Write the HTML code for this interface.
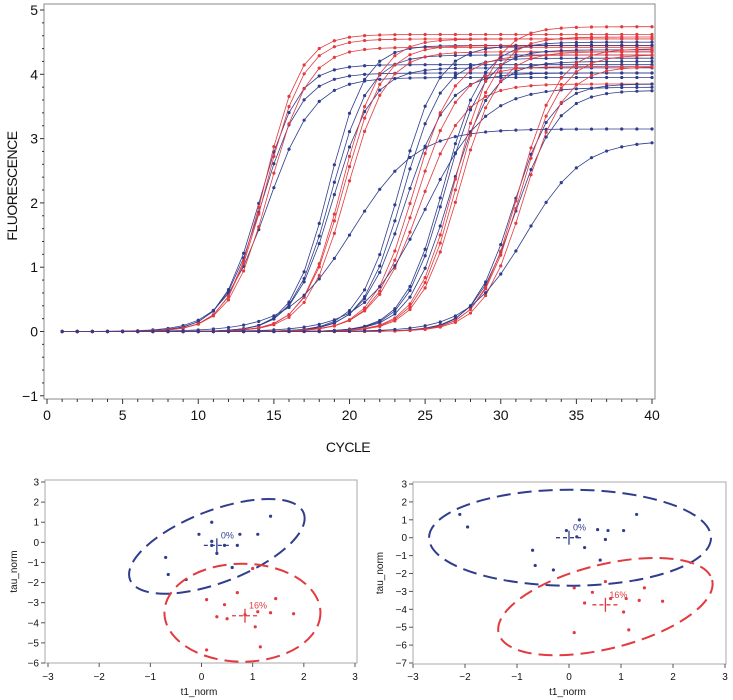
<!DOCTYPE html>
<html><head><meta charset="utf-8">
<style>
html,body{margin:0;padding:0;background:#fff;}
svg{display:block;font-family:"Liberation Sans",Arial,sans-serif;}
</style></head>
<body>
<svg id="root" width="733" height="700" viewBox="0 0 733 700" xmlns="http://www.w3.org/2000/svg">
<g id="top"></g>
<g id="bl"></g>
<g id="br"></g>
</svg>
<script>
// ---- amplification curves data (per-curve parameters) ----
var cycles = [];
for (var c = 1; c <= 40; c++) cycles.push(c);
var curveGroup    = ['b','b','b','r','r','r', 'b','b','b','r','r','r','b', 'b','b','b','r','r','r','b', 'b','b','b','r','r','r', 'b','b','r','r','r','b'];
var curveMid      = [14.1,14.2,14.6,14.4,14.5,14.7, 18.6,18.8,18.9,19.5,19.6,19.8,20.2, 23.3,23.5,23.7,24.2,24.4,24.6,25.0, 26.2,26.3,26.6,27.0,27.1,27.2, 30.8,31.0,31.2,31.3,31.5,31.6];
var curvePlateau  = [4.15,4.02,3.95,4.62,4.55,4.42, 4.45,4.3,4.1,4.55,4.45,4.35,3.15, 4.45,4.25,4.02,4.3,4.12,3.85,3.8, 4.5,4.38,4.2,4.74,4.58,4.35, 3.85,3.75,4.4,4.3,4.12,2.97];
var curveSlope    = [1.25,1.3,1.5,1.2,1.25,1.3, 1.2,1.25,1.3,1.25,1.3,1.3,2.1, 1.3,1.3,1.4,1.35,1.4,1.5,2.0, 1.3,1.3,1.35,1.3,1.3,1.3, 1.3,1.4,1.3,1.35,1.35,1.9];
var yTicksTop = [-1,0,1,2,3,4,5];
var xTicksTop = [0,5,10,15,20,25,30,35,40];

// ---- scatter data ----
var blueL = [[-0.7,-0.75],[-0.65,-1.6],[-0.3,-1.85],[-0.05,0.4],[0.2,1.0],[0.2,0.05],[0.3,-0.55],[0.45,-0.15],[0.7,-0.15],[0.75,0.4],[1.1,0.4],[1.35,1.3],[0.6,-1.25],[0.2,-0.15]];
var redL  = [[0.1,-2.85],[0.3,-3.7],[0.45,-3.1],[0.5,-3.8],[0.7,-2.5],[0.85,-3.6],[1.05,-4.2],[1.1,-3.45],[1.15,-5.2],[1.35,-3.5],[1.45,-2.8],[1.8,-3.55],[0.1,-5.35],[1.0,-1.3]];
var blueR = [[-0.7,-0.7],[-0.65,-1.55],[-0.3,-1.8],[-0.05,0.4],[0.2,1.0],[0.15,0.05],[0.3,-0.55],[0.55,0.45],[0.75,0.4],[0.7,-0.1],[1.05,0.4],[1.3,1.3],[0.6,-1.25],[-2.1,1.3],[-1.95,0.6]];
var redR  = [[0.1,-2.8],[0.3,-3.65],[0.45,-3.05],[0.7,-2.45],[0.8,-3.4],[1.05,-4.15],[1.1,-3.4],[1.15,-5.15],[1.35,-3.5],[1.45,-2.8],[1.8,-3.55],[0.1,-5.3]];
var centroidL = [[0.3,-0.15],[0.85,-3.65]];
var centroidR = [[0.0,0.0],[0.7,-3.75]];
var labelsGroup = ['0%','16%'];
var ellipseL = [[0.3,-0.2,93,36,-21],[0.8,-3.5,78,49,0]];
var ellipseR = [[0.02,0.0,141,48,0],[0.7,-3.85,110,42,-14]];
var xTicksS = [-3,-2,-1,0,1,2,3];
var yTicksL = [3,2,1,0,-1,-2,-3,-4,-5,-6];
var yTicksR = [3,2,1,0,-1,-2,-3,-4,-5,-6,-7];

var NS = 'http://www.w3.org/2000/svg';
var BLUE = '#2f3d8c', RED = '#e23a3f', GRAY = '#888';
function mk(parent, tag, attrs, text) {
  var e = document.createElementNS(NS, tag);
  for (var k in attrs) e.setAttribute(k, attrs[k]);
  if (text !== undefined) e.textContent = text;
  parent.appendChild(e);
  return e;
}

// ===== top chart =====
(function(){
  var g = document.getElementById('top');
  var L=44, R=655, T=4, B=399;
  function X(v){ return 47 + v * (652-47)/40; }
  function Y(v){ return 331.5 - v * 64.3; }
  var fr = mk(g,'rect',{x:L,y:T,width:R-L,height:B-T,fill:'none',stroke:GRAY,'stroke-width':1});
  
  
  // y minor ticks
  for (var v=-1; v<=5.001; v+=0.2) {
    var maj = Math.abs(v-Math.round(v))<1e-6;
    mk(g,'line',{x1:L-(maj?4:2),x2:L,y1:Y(v),y2:Y(v),stroke:'#333','stroke-width':1});
  }
  yTicksTop.forEach(function(v){
    var t = mk(g,'text',{x:L-6,y:Y(v)+5,'text-anchor':'end','font-size':14,fill:'#111'}, v<0?'\u22121':String(v));
    
    
  });
  for (var c2=0;c2<=40;c2++){
    var mj = c2%5===0;
    mk(g,'line',{x1:X(c2),x2:X(c2),y1:B,y2:B+(mj?5:3),stroke:'#333','stroke-width':1});
  }
  xTicksTop.forEach(function(v){
    var t = mk(g,'text',{x:X(v),y:420,'text-anchor':'middle','font-size':14,fill:'#111'}, String(v));
    
    
  });
  var xt = mk(g,'text',{x:348,y:452,'text-anchor':'middle','font-size':14,fill:'#111','letter-spacing':'-0.5'},'CYCLE');
  
  
  var yt = mk(g,'text',{x:0,y:0,'text-anchor':'middle','font-size':14,fill:'#111',transform:'translate(17,186) rotate(-90)','letter-spacing':'-0.5'},'FLUORESCENCE');
  
  
  for (var i=0;i<curveMid.length;i++){
    var col = curveGroup[i]==='b'?BLUE:RED;
    var vals = cycles.map(function(cc){ return curvePlateau[i]/(1+Math.exp(-(cc-curveMid[i])/curveSlope[i])); });
    var pts = vals.map(function(v,j){ return X(cycles[j]).toFixed(1)+','+Y(v).toFixed(1); }).join(' ');
    var s = mk(g,'g',{});
    
    
    mk(s,'polyline',{points:pts,fill:'none',stroke:col,'stroke-width':0.8});
    vals.forEach(function(v,j){ mk(s,'circle',{cx:X(cycles[j]),cy:Y(v),r:1.6,fill:col}); });
  }
})();

// ===== scatter charts =====
function scatter(id, box, xr, yr, yTicks, blue, red, cents, ells, ylabX) {
  var g = document.getElementById(id);
  function X(v){ return xr[0] + (v+3)*(xr[1]-xr[0])/6; }
  function Y(v){ return yr[0] + (3-v)*(yr[1]-yr[0])/(3-yTicks[yTicks.length-1]); }
  var fr = mk(g,'rect',{x:box[0],y:box[1],width:box[2]-box[0],height:box[3]-box[1],fill:'none',stroke:'#aaa','stroke-width':1});
  
  
  xTicksS.forEach(function(v){
    mk(g,'line',{x1:X(v),x2:X(v),y1:box[3],y2:box[3]+4,stroke:'#555'});
    var t = mk(g,'text',{x:X(v),y:680,'text-anchor':'middle','font-size':10,fill:'#111'}, v<0?'\u2212'+(-v):String(v));
    
    
  });
  yTicks.forEach(function(v){
    mk(g,'line',{x1:box[0]-4,x2:box[0],y1:Y(v),y2:Y(v),stroke:'#555'});
    var t = mk(g,'text',{x:box[0]-6,y:Y(v)+3.5,'text-anchor':'end','font-size':10,fill:'#111'}, v<0?'\u2212'+(-v):String(v));
    
    
  });
  var xt = mk(g,'text',{x:(box[0]+box[2])/2-2,y:695,'text-anchor':'middle','font-size':10,fill:'#111'},'t1_norm');
  
  
  var yt = mk(g,'text',{x:0,y:0,'text-anchor':'middle','font-size':10,fill:'#111',transform:'translate('+ylabX+','+((box[1]+box[3])/2)+') rotate(-90)'},'tau_norm');
  
  
  [blue,red].forEach(function(set,k){
    var col = k===0?BLUE:RED;
    set.forEach(function(p){
      var d = mk(g,'circle',{cx:X(p[0]),cy:Y(p[1]),r:1.6,fill:col});
      
      
    });
    var e = ells[k];
    var el = mk(g,'ellipse',{cx:X(e[0]),cy:Y(e[1]),rx:e[2],ry:e[3],fill:'none',stroke:col,'stroke-width':2,'stroke-dasharray':'14 7',transform:'rotate('+e[4]+' '+X(e[0])+' '+Y(e[1])+')'});
    
    
    var ce = cents[k], cx=X(ce[0]), cy=Y(ce[1]);
    var cg = mk(g,'g',{stroke:col,'stroke-width':1.3});
    
    
    mk(cg,'line',{x1:cx-13,x2:cx+13,y1:cy,y2:cy,'stroke-dasharray':'4 3'});
    mk(cg,'line',{x1:cx,x2:cx,y1:cy-7,y2:cy+7});
    var lb = mk(g,'text',{x:cx+4,y:cy-7,'font-size':9,fill:col}, labelsGroup[k]);
    
    
  });
}
scatter('bl',[45,480,357,663],[48,355],[482,663],yTicksL,blueL,redL,centroidL,ellipseL,17);
scatter('br',[413,482,726,664],[413,725],[484,663],yTicksR,blueR,redR,centroidR,ellipseR,383);
</script>
</body></html>
